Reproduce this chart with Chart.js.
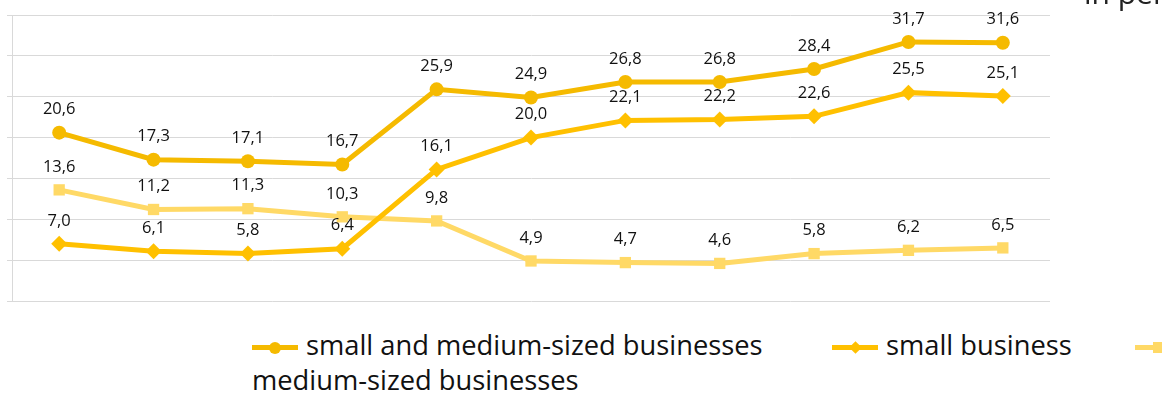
<!DOCTYPE html>
<html>
<head>
<meta charset="utf-8">
<script src="https://cdn.jsdelivr.net/npm/chart.js@4.4.0/dist/chart.umd.min.js"></script>
<style>
  html, body { margin: 0; padding: 0; background: #fff; overflow: hidden; }
  body { width: 1162px; height: 394px; position: relative; font-family: "Open Sans", sans-serif; }
  #wrap { position: absolute; left: 0; top: 0; width: 1162px; height: 320px; }
  #chart { display: block; }
  #unit { position: absolute; left: 1084px; top: -28px; font-size: 30px; color: #222; white-space: nowrap; }
  .leg { position: absolute; white-space: nowrap; font-size: 27.3px; color: #111; }
  .mk { position: absolute; height: 5px; width: 46px; }
  .mk i { position: absolute; display: block; }
</style>
</head>
<body>
<div id="wrap"><canvas id="chart" width="1162" height="320"></canvas></div>
<div id="unit">in percent</div>
<div id="legend"></div>
<script>
// Categories (no axis labels shown in the picture)
const categories = ['1', '2', '3', '4', '5', '6', '7', '8', '9', '10', '11'];

// Series values
const smbValues = [20.6, 17.3, 17.1, 16.7, 25.9, 24.9, 26.8, 26.8, 28.4, 31.7, 31.6];
const smallValues = [7.0, 6.1, 5.8, 6.4, 16.1, 20.0, 22.1, 22.2, 22.6, 25.5, 25.1];
const mediumValues = [13.6, 11.2, 11.3, 10.3, 9.8, 4.9, 4.7, 4.6, 5.8, 6.2, 6.5];

const seriesNames = ['small and medium-sized businesses', 'small business', 'medium-sized businesses'];

// Value axis
const yMin = 0;
const yMax = 35;
const yStep = 5;

const colors = ['#F5BA00', '#FFC000', '#FFD966'];

// Draw the value labels above each point
const valueLabels = {
    id: 'valueLabels',
    afterDatasetsDraw(chart) {
        const ctx = chart.ctx;
        ctx.save();
        ctx.font = '16.5px "Open Sans", sans-serif';
        ctx.fillStyle = '#111';
        ctx.textAlign = 'center';
        ctx.textBaseline = 'middle';
        chart.data.datasets.forEach((ds, i) => {
            chart.getDatasetMeta(i).data.forEach((pt, j) => {
                const txt = ds.data[j].toFixed(1).replace('.', ',');
                ctx.fillText(txt, pt.x, pt.y - 23);
            });
        });
        ctx.restore();
    }
};

const ctx = document.getElementById('chart').getContext('2d');
const chart = new Chart(ctx, {
    type: 'line',
    data: {
        labels: categories,
        datasets: [{
            label: seriesNames[0],
            data: smbValues,
            borderColor: colors[0],
            backgroundColor: colors[0],
            pointStyle: 'circle',
            pointRadius: 7
        }, {
            label: seriesNames[1],
            data: smallValues,
            borderColor: colors[1],
            backgroundColor: colors[1],
            pointStyle: 'rectRot',
            pointRadius: 8
        }, {
            label: seriesNames[2],
            data: mediumValues,
            borderColor: colors[2],
            backgroundColor: colors[2],
            pointStyle: 'rect',
            pointRadius: 8
        }]
    },
    options: {
        responsive: false,
        maintainAspectRatio: false,
        animation: false,
        devicePixelRatio: 1,
        layout: { padding: { left: 7, right: 112, top: 15, bottom: 19 } },
        elements: {
            line: { borderWidth: 5, tension: 0 },
            point: { borderWidth: 0 }
        },
        plugins: {
            legend: { display: false },
            tooltip: { enabled: false }
        },
        scales: {
            x: {
                display: false,
                offset: true
            },
            y: {
                min: yMin,
                max: yMax,
                ticks: { display: false, stepSize: yStep },
                grid: { color: '#d9d9d9', lineWidth: 1, tickLength: 5 },
                border: { display: true, color: '#d9d9d9', width: 1 },
                afterFit: s => { s.width = 5; }
            }
        }
    },
    plugins: [valueLabels]
});

// HTML legend built from the datasets
const legendSpots = [
    { mx: 252, my: 345, tx: 306, ty: 326 },
    { mx: 832, my: 345, tx: 886, ty: 326 },
    { mx: 1135, my: 345, tx: 252, ty: 361 }
];
const legend = document.getElementById('legend');
chart.data.datasets.forEach((ds, i) => {
    const s = legendSpots[i];
    const mk = document.createElement('div');
    mk.className = 'mk';
    mk.style.left = s.mx + 'px';
    mk.style.top = s.my + 'px';
    mk.style.background = ds.borderColor;
    const dot = document.createElement('i');
    dot.style.background = ds.borderColor;
    if (ds.pointStyle === 'circle') {
        Object.assign(dot.style, { width: '12px', height: '12px', left: '17px', top: '-3.5px', borderRadius: '50%' });
    } else if (ds.pointStyle === 'rectRot') {
        Object.assign(dot.style, { width: '9px', height: '9px', left: '18.5px', top: '-2px', transform: 'rotate(45deg)' });
    } else {
        Object.assign(dot.style, { width: '11px', height: '11px', left: '17.5px', top: '-3px' });
    }
    mk.appendChild(dot);
    legend.appendChild(mk);
    const t = document.createElement('div');
    t.className = 'leg';
    t.style.left = s.tx + 'px';
    t.style.top = s.ty + 'px';
    t.textContent = ds.label;
    legend.appendChild(t);
});
</script>
</body>
</html>
